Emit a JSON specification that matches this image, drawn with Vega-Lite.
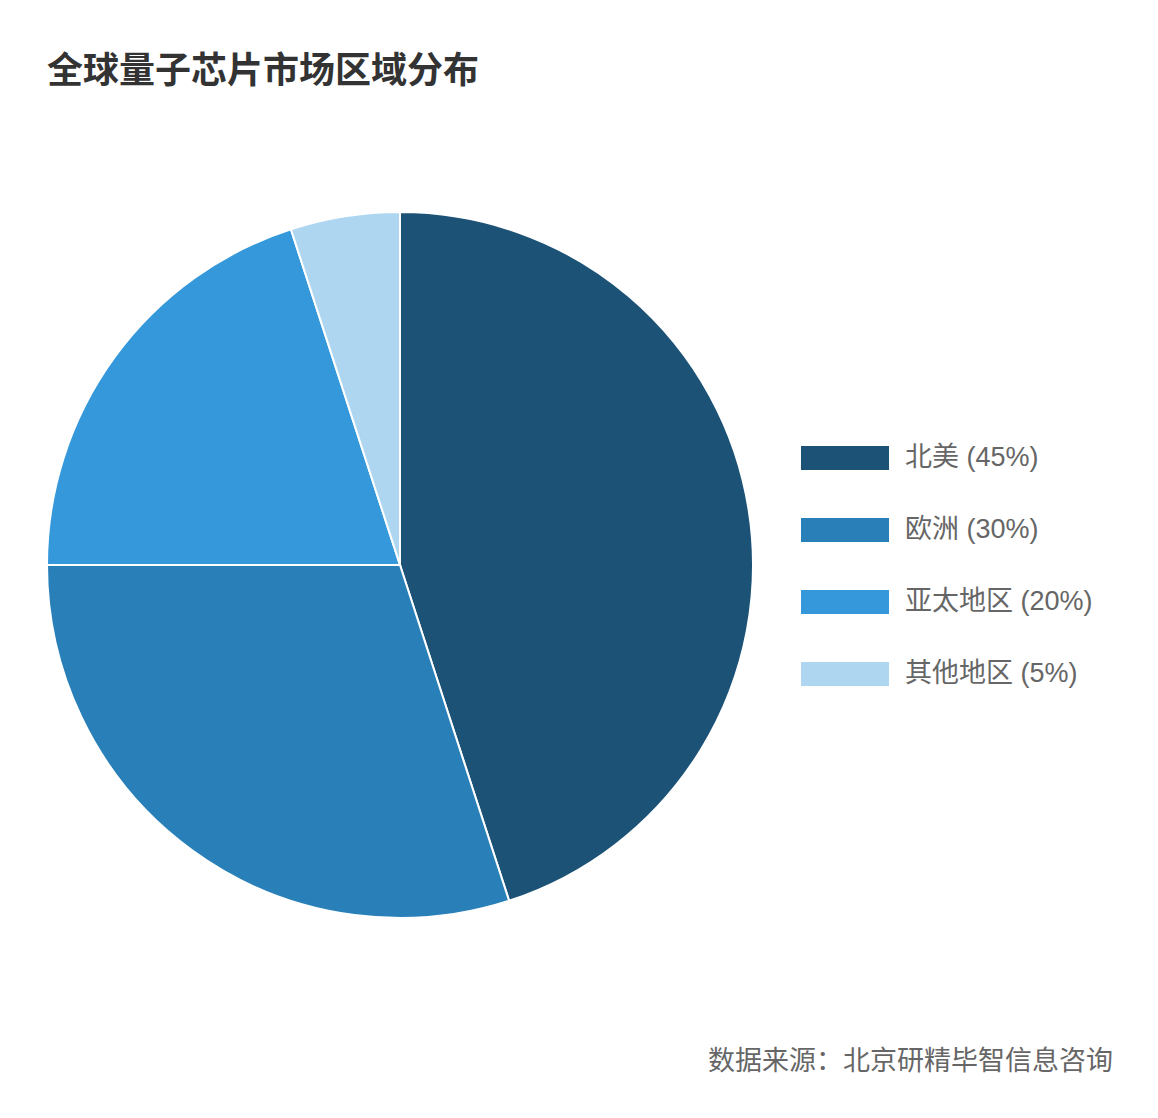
{
  "$schema": "https://vega.github.io/schema/vega-lite/v6.json",
  "background": "white",
  "padding": {"left": 43, "top": 54, "right": 20, "bottom": 20},
  "title": {
    "text": "全球量子芯片市场区域分布",
    "anchor": "start",
    "frame": "group",
    "font": "Liberation Sans, Noto Sans CJK SC",
    "fontSize": 36,
    "fontWeight": "bold",
    "color": "#333333",
    "offset": 117
  },
  "data": {
    "values": [
      {"region": "北美", "share": 45, "label": "北美 (45%)"},
      {"region": "欧洲", "share": 30, "label": "欧洲 (30%)"},
      {"region": "亚太地区", "share": 20, "label": "亚太地区 (20%)"},
      {"region": "其他地区", "share": 5, "label": "其他地区 (5%)"}
    ]
  },
  "vconcat": [
    {
      "width": 706,
      "height": 706,
      "title": {
        "text": "数据来源：北京研精毕智信息咨询",
        "orient": "bottom",
        "anchor": "end",
        "frame": "group",
        "dx": 360,
        "offset": 127,
        "font": "Liberation Sans, Noto Sans CJK SC",
        "fontSize": 27,
        "fontWeight": "normal",
        "color": "#666666"
      },
      "mark": {"type": "arc", "stroke": "white", "strokeWidth": 2},
      "encoding": {
        "theta": {"field": "share", "type": "quantitative", "stack": true},
        "order": {"field": "share", "type": "quantitative", "sort": "descending"},
        "color": {
          "field": "label",
          "type": "nominal",
          "sort": ["北美 (45%)", "欧洲 (30%)", "亚太地区 (20%)", "其他地区 (5%)"],
          "scale": {
            "domain": ["北美 (45%)", "欧洲 (30%)", "亚太地区 (20%)", "其他地区 (5%)"],
            "range": ["#1b5276", "#2980b9", "#3598db", "#aed6f1"]
          },
          "legend": {
            "title": null,
            "orient": "none",
            "legendX": 754,
            "legendY": 202,
            "symbolType": "M-1,-0.2727H1V0.2727H-1Z",
            "symbolSize": 7744,
            "symbolStrokeWidth": 0,
            "labelFont": "Liberation Sans, Noto Sans CJK SC",
            "labelFontSize": 27,
            "labelColor": "#666666",
            "labelOffset": 16,
            "labelLimit": 400,
            "rowPadding": 15,
            "padding": 0
          }
        }
      }
    }
  ],
  "config": {"view": {"stroke": null}}
}
